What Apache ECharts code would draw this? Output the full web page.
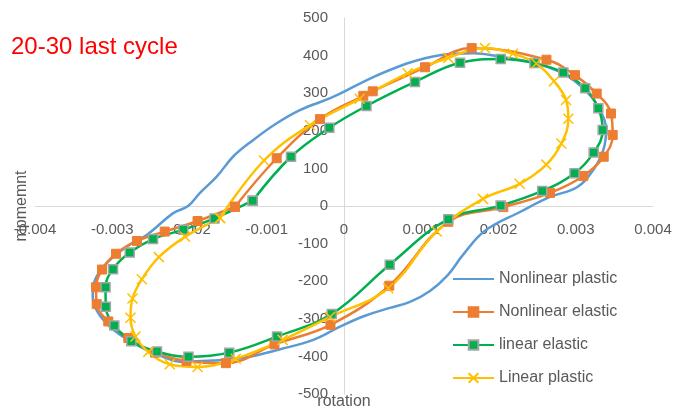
<!DOCTYPE html>
<html>
<head>
<meta charset="utf-8">
<script src="https://cdn.jsdelivr.net/npm/echarts@6/dist/echarts.min.js"></script>
<style>
html,body{margin:0;padding:0;background:#fff;}
#chart{width:673px;height:411px;}
</style>
</head>
<body>
<div id="chart"></div>
<script>
// ---- data (rotation, moment) ----
const seriesNames = ['Nonlinear plastic', 'Nonlinear elastic', 'linear elastic', 'Linear plastic'];
const xTicks = [-0.004, -0.003, -0.002, -0.001, 0, 0.001, 0.002, 0.003, 0.004];
const yTicks = [-500, -400, -300, -200, -100, 0, 100, 200, 300, 400, 500];

const nonlinPlasticX = [0.000812, 0.001243, 0.001674, 0.002019, 0.002408, 0.002839, 0.003142, 0.003314, 0.003392, 0.003357, 0.003227, 0.003016, 0.002667, 0.002278, 0.001825, 0.001540, 0.001346, 0.001113, 0.000854, 0.000595, 0.000272, -0.000052, -0.000397, -0.000828, -0.001260, -0.001692, -0.002123, -0.002295, -0.002641, -0.002986, -0.003181, -0.003253, -0.003223, -0.003072, -0.002813, -0.002554, -0.002210, -0.002019, -0.001864, -0.001648, -0.001437, -0.001178, -0.000871, -0.000570, -0.000142, 0.000379, 0.000812];
const nonlinPlasticY = [379, 401, 406, 397, 383, 352, 304, 255, 202, 149, 96, 50, 24, -16, -66, -130, -183, -226, -255, -271, -292, -321, -356, -381, -402, -411, -414, -405, -374, -329, -285, -241, -197, -152, -108, -77, -19, 0, 35, 78, 131, 175, 220, 255, 290, 343, 379];

const nonlinElasticX = [-0.001411, -0.000871, -0.000311, 0.000250, 0.000372, 0.001049, 0.001653, 0.002621, 0.002990, 0.003271, 0.003456, 0.003478, 0.003362, 0.003098, 0.002667, 0.002062, 0.001350, 0.000586, -0.000175, -0.000900, -0.001528, -0.002039, -0.002447, -0.002792, -0.003051, -0.003201, -0.003210, -0.003133, -0.002951, -0.002680, -0.002321, -0.001896, -0.001411];
const nonlinElasticY = [-2, 127, 231, 293, 305, 369, 420, 389, 348, 299, 246, 189, 131, 80, 35, -3, -42, -212, -316, -368, -418, -412, -390, -351, -307, -261, -216, -169, -127, -93, -68, -40, -2];

const linElasticX = [-0.001182, -0.000686, -0.000190, 0.000291, 0.000919, 0.001502, 0.002028, 0.002466, 0.002839, 0.003122, 0.003292, 0.003349, 0.003232, 0.002984, 0.002566, 0.002028, 0.001350, 0.000592, -0.000159, -0.000867, -0.001485, -0.002013, -0.002421, -0.002753, -0.002973, -0.003083, -0.003087, -0.002990, -0.002774, -0.002472, -0.002080, -0.001676, -0.001182];
const linElasticY = [14, 131, 208, 266, 330, 381, 391, 380, 355, 313, 260, 202, 142, 87, 40, 1, -35, -156, -287, -347, -390, -401, -387, -360, -318, -268, -216, -168, -124, -88, -63, -33, 14];

const linPlasticX = [-0.001605, -0.001036, -0.000440, 0.000203, 0.000822, 0.001350, 0.001825, 0.002188, 0.002489, 0.002718, 0.002874, 0.002904, 0.002813, 0.002619, 0.002274, 0.001799, 0.001200, 0.000573, -0.000181, -0.000796, -0.001401, -0.001896, -0.002256, -0.002533, -0.002699, -0.002764, -0.002738, -0.002617, -0.002397, -0.002058, -0.001605];
const linPlasticY = [-32, 121, 215, 285, 353, 394, 420, 405, 379, 332, 282, 232, 166, 110, 59, 19, -68, -219, -295, -356, -406, -428, -421, -388, -347, -297, -246, -195, -136, -82, -32];

function pairs(xs, ys) { return xs.map((x, i) => [x, ys[i]]); }

const FONT = 'Liberation Sans, Arial, sans-serif';
const TXT = '#595959';

const chart = echarts.init(document.getElementById('chart'), null, {renderer: 'canvas'});
chart.setOption({
  animation: false,
  backgroundColor: '#ffffff',
  title: {
    text: '20-30 last cycle',
    left: 11, top: 35, padding: 0,
    textStyle: {color: '#FF0000', fontSize: 24, fontWeight: 'normal', fontFamily: FONT}
  },
  legend: {
    orient: 'vertical', left: 452, top: 271, padding: 0,
    itemWidth: 41, itemHeight: 12, itemGap: 17,
    data: [
      {name: seriesNames[0], itemStyle: {opacity: 0}},
      {name: seriesNames[1]},
      {name: seriesNames[2]},
      {name: seriesNames[3]}
    ],
    textStyle: {color: TXT, fontSize: 16, fontFamily: FONT}
  },
  grid: {left: 35, right: 20, top: 18, bottom: 17, containLabel: false, outerBoundsMode: 'none'},
  xAxis: {
    type: 'value', min: xTicks[0], max: xTicks[xTicks.length - 1], interval: 0.001,
    position: 'bottom', offset: -188,
    name: 'rotation', nameLocation: 'middle', nameGap: 188,
    nameTextStyle: {color: TXT, fontSize: 16, fontFamily: FONT},
    axisLine: {onZero: false, lineStyle: {color: '#D9D9D9', width: 1}},
    axisTick: {show: false},
    splitLine: {show: false},
    axisLabel: {
      color: TXT, fontSize: 15, fontFamily: FONT, margin: 16,
      formatter: v => Math.abs(v) < 1e-9 ? '0' : v.toFixed(3)
    }
  },
  yAxis: {
    type: 'value', min: yTicks[0], max: yTicks[yTicks.length - 1], interval: 100,
    position: 'left', offset: -309,
    name: 'mpmemnt', nameLocation: 'middle', nameRotate: 90, nameGap: 314,
    nameTextStyle: {color: TXT, fontSize: 16, fontFamily: FONT},
    axisLine: {onZero: false, lineStyle: {color: '#D9D9D9', width: 1}},
    axisTick: {show: false},
    splitLine: {show: false},
    axisLabel: {color: TXT, fontSize: 15, fontFamily: FONT, margin: 16}
  },
  series: [
    {
      name: seriesNames[0], type: 'line', smooth: 0.4, symbol: 'none',
      data: pairs(nonlinPlasticX, nonlinPlasticY),
      lineStyle: {color: '#5B9BD5', width: 2.5},
      itemStyle: {color: '#5B9BD5'}
    },
    {
      name: seriesNames[1], type: 'line', smooth: 0.4, symbol: 'rect', symbolSize: 9,
      data: pairs(nonlinElasticX, nonlinElasticY),
      lineStyle: {color: '#ED7D31', width: 2.5},
      itemStyle: {color: '#ED7D31', borderColor: '#ED7D31', borderWidth: 1}
    },
    {
      name: seriesNames[2], type: 'line', smooth: 0.4, symbol: 'rect', symbolSize: 9,
      data: pairs(linElasticX, linElasticY),
      lineStyle: {color: '#00B050', width: 2.5},
      itemStyle: {color: '#00B050', borderColor: '#A5A5A5', borderWidth: 1.5}
    },
    {
      name: seriesNames[3], type: 'line', smooth: 0.4,
      symbol: 'path://M0,0L10,10M10,0L0,10', symbolSize: 10,
      data: pairs(linPlasticX, linPlasticY),
      lineStyle: {color: '#FFC000', width: 2.5},
      itemStyle: {color: '#FFC000', borderColor: '#FFC000', borderWidth: 1.5}
    }
  ]
});
</script>
</body>
</html>
